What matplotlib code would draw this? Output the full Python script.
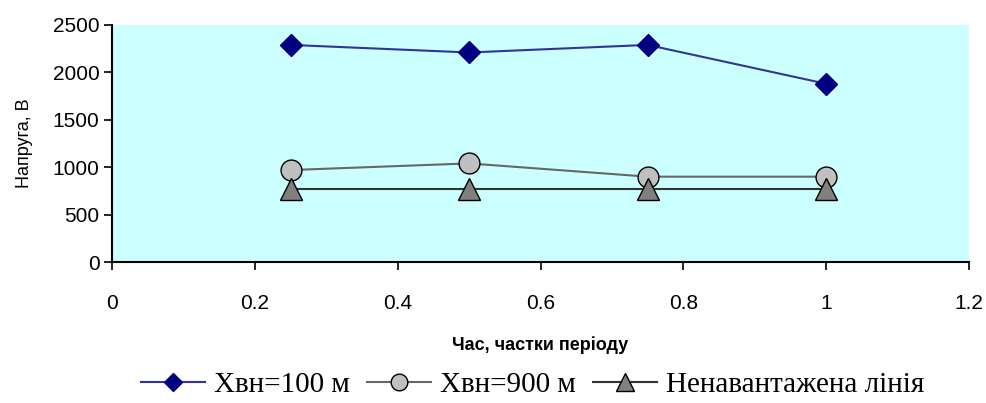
import numpy as np
import matplotlib.pyplot as plt

# data
t = [0.25, 0.5, 0.75, 1.0]
u_100 = [2290, 2210, 2290, 1880]
u_900 = [970, 1040, 900, 900]
u_idle = [770, 770, 770, 770]
labels = ["Xвн=100 м", "Xвн=900 м", "Ненавантажена лінія"]

fig = plt.figure(figsize=(9.86, 4.03), dpi=100)
ax = fig.add_axes([112/986, 1 - 262/403, (969-112)/986, (262-25)/403])
ax.set_facecolor("#CCFFFF")

ax.plot(t, u_100, color="#333399", lw=1.5, marker="D", ms=11,
        mfc="#000080", mec="#000080", label=labels[0])
ax.plot(t, u_900, color="#666666", lw=1.5, marker="o", ms=15,
        mfc="#C0C0C0", mec="black", mew=1, label=labels[1])
ax.plot(t, u_idle, color="#333333", lw=1.5, marker="^", ms=16,
        mfc="#808080", mec="black", mew=1, label=labels[2])

ax.set_xlim(0, 1.2)
ax.set_ylim(0, 2500)
ax.set_xticks([0, 0.2, 0.4, 0.6, 0.8, 1, 1.2])
ax.set_xticklabels(["0", "0.2", "0.4", "0.6", "0.8", "1", "1.2"])
ax.set_yticks(np.arange(0, 2501, 500))
for s in ["top", "right"]:
    ax.spines[s].set_visible(False)
ax.spines["left"].set_linewidth(1.5)
ax.spines["bottom"].set_linewidth(1.5)
ax.tick_params(direction="out", length=6, width=1.2)
ax.tick_params(axis="x", pad=17)
ax.tick_params(axis="y", pad=3)
for lab in ax.get_xticklabels() + ax.get_yticklabels():
    lab.set_family("Liberation Sans")
    lab.set_fontsize(15)

ax.set_xlabel("Час, частки періоду", fontsize=13, fontweight="bold",
              family="Liberation Sans", labelpad=17)
ax.set_ylabel("Напруга, В", fontsize=13, family="Liberation Sans", labelpad=14)

h, l = ax.get_legend_handles_labels()
fig.legend(h, l, loc="center", bbox_to_anchor=(0.54, 0.045), ncol=3, frameon=False,
           prop={"family": "Liberation Serif", "size": 21}, handlelength=2.2,
           columnspacing=0.6, handletextpad=0.3, markerscale=0.8)

plt.savefig("out.png", dpi=100)
